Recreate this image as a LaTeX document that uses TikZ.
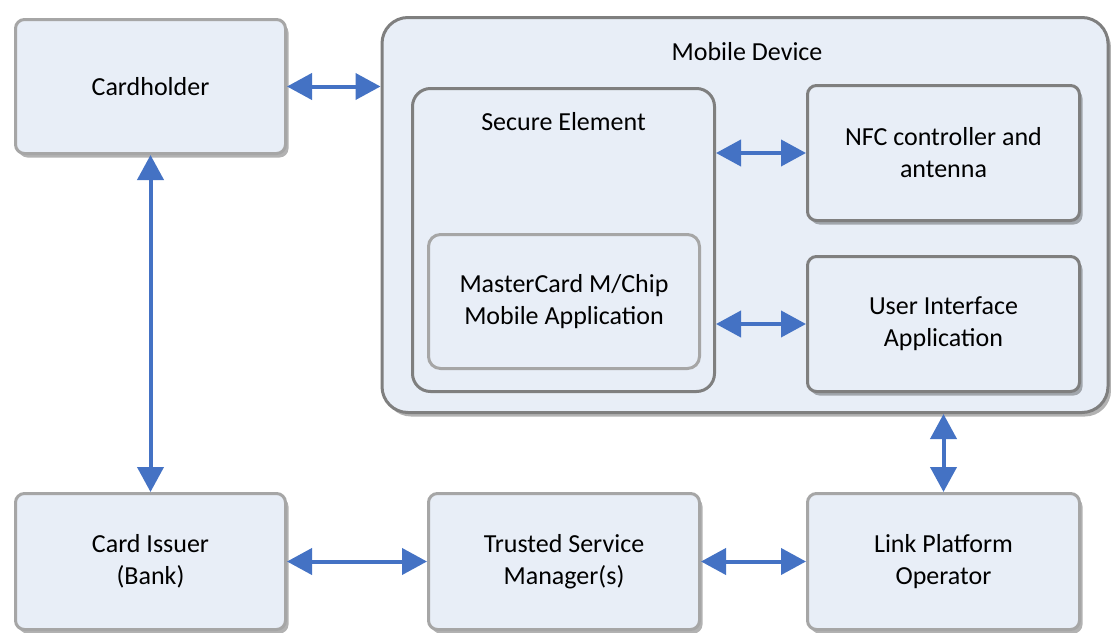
\documentclass[tikz,border=0pt]{standalone}
\usepackage{fontspec}
\setmainfont{Carlito}
\usetikzlibrary{shadows,arrows.meta}
\definecolor{boxfill}{HTML}{E8EEF7}
\definecolor{bordA}{HTML}{A6A6A6}
\definecolor{bordB}{HTML}{7F7F7F}
\definecolor{arr}{HTML}{4472C4}
\tikzset{
  base/.style={line width=3pt, fill=boxfill, align=center, inner sep=0pt,
    font=\fontsize{26}{32}\selectfont},
  shad/.style={drop shadow={shadow xshift=3pt, shadow yshift=-4pt, fill=black, opacity=0.3}},
  lightbox/.style={base, shad, draw=bordA, rounded corners=9pt},
  darkbox/.style={base, shad, draw=bordB, rounded corners=9pt},
  bigbox/.style={base, shad, draw=bordB, rounded corners=26pt},
  sebox/.style={base, draw=bordB, rounded corners=18pt},
  mcbox/.style={base, draw=bordA, rounded corners=12pt},
  lbl/.style={font=\fontsize{26}{32}\selectfont, inner sep=0pt},
  link/.style={draw=arr, line width=4pt,
    {Triangle[length=25pt,width=26pt]}-{Triangle[length=25pt,width=26pt]}},
}
\begin{document}
\begin{tikzpicture}[x=1pt,y=-1pt]
\useasboundingbox (0,0) rectangle (1111,632);
\fill[white] (0,0) rectangle (1111,632);
% boxes
\node[lightbox, minimum width=270pt, minimum height=134pt] (card) at (150.5,86.5) {Cardholder};
\node[bigbox, minimum width=726pt, minimum height=395pt] (md) at (745,215) {};
\node[lbl] (mdl) at (747,52) {Mobile Device};
\node[sebox, minimum width=302pt, minimum height=303pt] (se) at (563.5,240) {};
\node[lbl] (sel) at (563.5,122) {Secure Element};
\node[mcbox, minimum width=271pt, minimum height=134pt] (mc) at (564,301.5) {MasterCard M/Chip\\Mobile Application};
\node[darkbox, minimum width=272pt, minimum height=135pt] (nfc) at (943.5,153) {NFC controller and\\antenna};
\node[darkbox, minimum width=272pt, minimum height=135pt] (ui) at (943.5,324) {User Interface\\Application};
\node[lightbox, minimum width=270pt, minimum height=136pt] (iss) at (150.5,561.5) {Card Issuer\\(Bank)};
\node[lightbox, minimum width=271pt, minimum height=136pt] (tsm) at (564,561.5) {Trusted Service\\Manager(s)};
\node[lightbox, minimum width=272pt, minimum height=136pt] (lpo) at (943.5,561.5) {Link Platform\\Operator};
% connectors
\draw[link] (card.east) -- (card.east -| md.west);
\draw[link] (card.south) -- (iss.north);
\draw[link] (nfc.west -| se.east) -- (nfc.west);
\draw[link] (ui.west -| se.east) -- (ui.west);
\draw[link] (lpo.north |- md.south) -- (lpo.north);
\draw[link] (iss.east) -- (tsm.west);
\draw[link] (tsm.east) -- (lpo.west);
\end{tikzpicture}
\end{document}
